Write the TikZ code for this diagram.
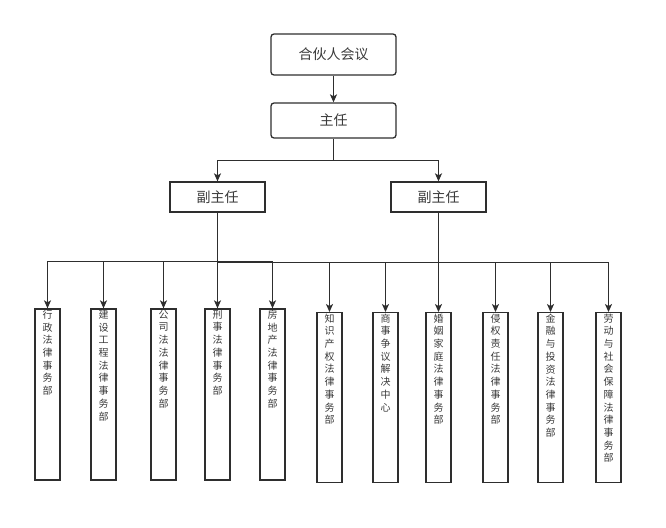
\documentclass[tikz,border=0pt]{standalone}
\usepackage{fontspec}
\newfontfamily\cjk{Noto Sans CJK SC}
\usetikzlibrary{arrows.meta}
\definecolor{linegray}{HTML}{2E2E2E}
\definecolor{textgray}{HTML}{3A3A3A}
\tikzset{
	arr/.style={draw=linegray, line width=1.5pt, -{Stealth[length=8pt,width=7pt,inset=2pt]}},
	link/.style={draw=linegray, line width=1.5pt},
	headbox/.style={draw=linegray, line width=1.3pt, rounded corners=3pt, minimum width=125pt, text=textgray, font=\cjk\fontsize{14}{16}\selectfont},
	subbox/.style={draw=linegray, line width=1.3pt, minimum width=95pt, minimum height=30pt, text=textgray, font=\cjk\fontsize{14}{16}\selectfont},
	deptbox/.style={draw=linegray, line width=1.3pt, minimum width=25pt, minimum height=171pt, inner sep=0pt},
	deptname/.style={anchor=north, yshift=-1.5pt, inner sep=0pt, align=center, text=textgray, font=\cjk\fontsize{10}{12.7}\selectfont}
}
\begin{document}
\begin{tikzpicture}[x=1pt,y=-1pt]
				%%%%% frame %%%%%
				\useasboundingbox (0,0) rectangle (666,527);
				\def\yleft{394.5}
				\def\yright{397.7}

				\node[headbox, minimum height=41pt] (hh) at (333.5,54.5) {合伙人会议};
				\node[headbox, minimum height=35pt] (zr) at (333.5,120.5) {主任};
				\node[subbox] (fl) at (217.5,197) {副主任};
				\node[subbox] (fr) at (438.5,197) {副主任};

				% left departments
				\node[deptbox, label={[deptname]north:{行\\政\\法\\律\\事\\务\\部}}] (d1) at (47.5,\yleft) {};
				\node[deptbox, label={[deptname]north:{建\\设\\工\\程\\法\\律\\事\\务\\部}}] (d2) at (103.5,\yleft) {};
				\node[deptbox, label={[deptname]north:{公\\司\\法\\法\\律\\事\\务\\部}}] (d3) at (163.5,\yleft) {};
				\node[deptbox, label={[deptname]north:{刑\\事\\法\\律\\事\\务\\部}}] (d4) at (217.5,\yleft) {};
				\node[deptbox, label={[deptname]north:{房\\地\\产\\法\\律\\事\\务\\部}}] (d5) at (272.5,\yleft) {};

				% right departments
				\node[deptbox, minimum height=170pt, label={[deptname]north:{知\\识\\产\\权\\法\\律\\事\\务\\部}}] (d6) at (329.5,\yright) {};
				\node[deptbox, minimum height=170pt, label={[deptname]north:{商\\事\\争\\议\\解\\决\\中\\心}}] (d7) at (385.5,\yright) {};
				\node[deptbox, minimum height=170pt, label={[deptname]north:{婚\\姻\\家\\庭\\法\\律\\事\\务\\部}}] (d8) at (438.5,\yright) {};
				\node[deptbox, minimum height=170pt, label={[deptname]north:{侵\\权\\责\\任\\法\\律\\事\\务\\部}}] (d9) at (495.5,\yright) {};
				\node[deptbox, minimum height=170pt, label={[deptname]north:{金\\融\\与\\投\\资\\法\\律\\事\\务\\部}}] (d10) at (550.5,\yright) {};
				\node[deptbox, minimum height=170pt, label={[deptname]north:{劳\\动\\与\\社\\会\\保\\障\\法\\律\\事\\务\\部}}] (d11) at (608.5,\yright) {};

				\coordinate (jz) at (333.5,160.5);
				\coordinate (jl) at (217.5,261.5);
				\coordinate (jr) at (438.5,262.5);
				\coordinate (jrend) at (217.5,262.5);

				\draw[arr] (hh.south) -- (zr.north);
				\draw[link] (zr.south) -- (jz);
				\draw[arr] (jz) -| (fl.north);
				\draw[arr] (jz) -| (fr.north);

				\draw[link] (fl.south) -- (jl);
				\draw[arr] (jl) -| (d1.north);
				\draw[arr] (jl) -| (d2.north);
				\draw[arr] (jl) -| (d3.north);
				\draw[arr] (jl) -- (d4.north);
				\draw[arr] (jl) -| (d5.north);

				\draw[link] (fr.south) -- (jr);
				\draw[link] (jr) -- (jrend);
				\draw[arr] (jr) -| (d6.north);
				\draw[arr] (jr) -| (d7.north);
				\draw[arr] (jr) -- (d8.north);
				\draw[arr] (jr) -| (d9.north);
				\draw[arr] (jr) -| (d10.north);
				\draw[arr] (jr) -| (d11.north);
			\end{tikzpicture}
\end{document}
